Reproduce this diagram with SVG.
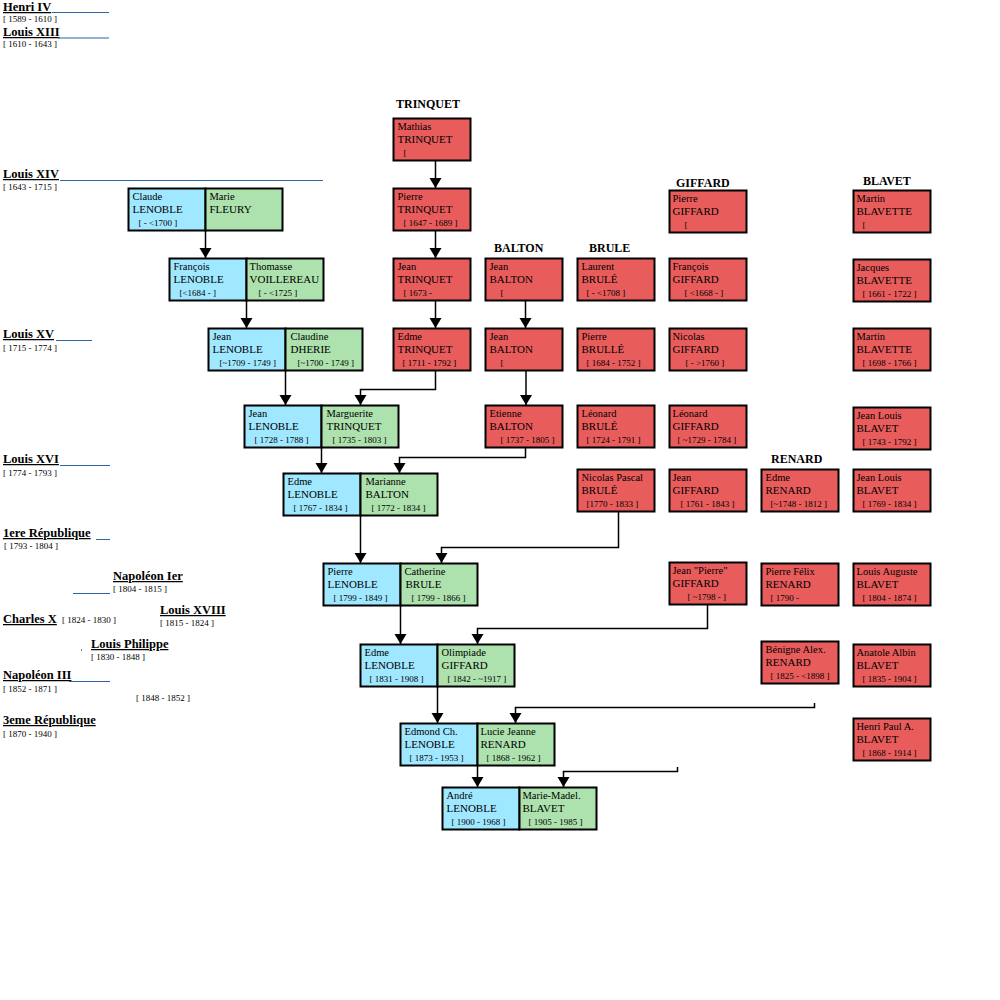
<svg xmlns="http://www.w3.org/2000/svg" width="1000" height="1000" viewBox="0 0 1000 1000">
<style>
.nb{fill:#a0e8ff;stroke:#000;stroke-width:2}
.ng{fill:#ade1ad;stroke:#000;stroke-width:2}
.nr{fill:#e85c5c;stroke:#000;stroke-width:2}
text{font-family:'Liberation Serif','Times New Roman',serif;fill:#000}
.f{font-size:10.5px}
.s{font-size:11px}
.d{font-size:9px}
.fam{font-size:12px;font-weight:bold}
.era{font-size:12.5px;font-weight:bold;text-decoration:underline}
.c{fill:none;stroke:#000;stroke-width:1.5;marker-end:url(#ah)}
.bl{stroke:#2b65a5;stroke-width:1;fill:none}
</style>
<defs>
<marker id="ah" markerUnits="userSpaceOnUse" markerWidth="13" markerHeight="13" refX="10" refY="6" orient="auto">
<path d="M0,0 L10,6 L0,12 z" fill="#000"/>
</marker>
</defs>
<rect width="1000" height="1000" fill="#fff"/>

<g id="eras">
<text class="era" x="3" y="11">Henri IV</text><line class="bl" x1="52" y1="12.5" x2="109" y2="12.5"/>
<text class="d" x="3" y="22">[ 1589 - 1610 ]</text>
<text class="era" x="3" y="36">Louis XIII</text><line class="bl" x1="58" y1="38" x2="109" y2="38"/>
<text class="d" x="3" y="47">[ 1610 - 1643 ]</text>
<text class="era" x="3" y="178">Louis XIV</text><line class="bl" x1="60" y1="180.5" x2="323" y2="180.5"/>
<text class="d" x="3" y="190">[ 1643 - 1715 ]</text>
<text class="era" x="3" y="338">Louis XV</text><line class="bl" x1="56" y1="340.5" x2="92" y2="340.5"/>
<text class="d" x="3" y="351">[ 1715 - 1774 ]</text>
<text class="era" x="3" y="463">Louis XVI</text><line class="bl" x1="60" y1="465.5" x2="110" y2="465.5"/>
<text class="d" x="3" y="476">[ 1774 - 1793 ]</text>
<text class="era" x="3" y="537">1ere République </text><line class="bl" x1="96" y1="539.5" x2="110" y2="539.5"/>
<text class="d" x="4" y="549">[ 1793 - 1804 ]</text>
<text class="era" x="113" y="580">Napoléon Ier</text><line class="bl" x1="73" y1="593.5" x2="110" y2="593.5"/>
<text class="d" x="113" y="592">[ 1804 - 1815 ]</text>
<text class="era" x="3" y="623">Charles X</text>
<text class="d" x="62" y="623">[ 1824 - 1830 ]</text>
<text class="era" x="160" y="614">Louis XVIII</text>
<text class="d" x="160" y="626">[ 1815 - 1824 ]</text>
<rect x="81" y="649.5" width="1" height="1" fill="#000"/>
<text class="era" x="91" y="648">Louis Philippe</text>
<text class="d" x="91" y="660">[ 1830 - 1848 ]</text>
<text class="era" x="3" y="679">Napoléon III</text><line class="bl" x1="69" y1="681.5" x2="110" y2="681.5"/>
<text class="d" x="3" y="692">[ 1852 - 1871 ]</text>
<text class="d" x="136" y="701">[ 1848 - 1852 ]</text>
<text class="era" x="3" y="724">3eme République</text>
<text class="d" x="3" y="737">[ 1870 - 1940 ]</text>
</g>

<g id="families">
<text class="fam" x="396" y="108">TRINQUET</text>
<text class="fam" x="494" y="251.5">BALTON</text>
<text class="fam" x="589" y="251.5">BRULE</text>
<text class="fam" x="676" y="187">GIFFARD</text>
<text class="fam" x="863" y="185">BLAVET</text>
<text class="fam" x="771" y="462.5">RENARD</text>
</g>

<g id="connectors">
<path class="c" d="M205.5,230 V258"/>
<path class="c" d="M246.5,300 V328"/>
<path class="c" d="M285.5,370 V405"/>
<path class="c" d="M435.5,370 V389.5 H360.5 V405"/>
<path class="c" d="M321.5,447 V473"/>
<path class="c" d="M525.5,447 V457.5 H399.5 V473"/>
<path class="c" d="M360.5,515 V563"/>
<path class="c" d="M618.5,511 V547.5 H441.5 V563"/>
<path class="c" d="M400.5,605 V644"/>
<path class="c" d="M707.5,604 V628.5 H477.5 V644"/>
<path class="c" d="M437.5,686 V723"/>
<path class="c" d="M814.5,703 V707.5 H515.5 V723"/>
<path class="c" d="M477.5,765 V787"/>
<path class="c" d="M677.5,767 V771.5 H563.5 V787"/>
<path class="c" d="M435.5,160 V188"/>
<path class="c" d="M435.5,230 V258"/>
<path class="c" d="M435.5,300 V328"/>
<path class="c" d="M525.5,300 V328"/>
<path class="c" d="M526,370 V405"/>
</g>

<g id="n-claude-lenoble" transform="translate(128.5,188.5)"><rect class="nb" width="77" height="42"/><text class="f" x="4" y="11">Claude</text><text class="s" x="4" y="24">LENOBLE</text><text class="d" x="10" y="37">[ - &lt;1700 ]</text></g>
<g id="n-marie-fleury" transform="translate(205.5,188.5)"><rect class="ng" width="77" height="42"/><text class="f" x="4" y="11">Marie</text><text class="s" x="4" y="24">FLEURY</text></g>
<g id="n-francois-lenoble" transform="translate(169.5,258.5)"><rect class="nb" width="77" height="42"/><text class="f" x="4" y="11">François</text><text class="s" x="4" y="24">LENOBLE</text><text class="d" x="10" y="37">[&lt;1684 - ]</text></g>
<g id="n-thomasse-voillereau" transform="translate(246.5,258.5)"><rect class="ng" width="77" height="42"/><text class="f" x="3" y="11">Thomasse</text><text class="s" x="3" y="24">VOILLEREAU</text><text class="d" x="12" y="37">[ - &lt;1725 ]</text></g>
<g id="n-jean-lenoble-1709" transform="translate(208.5,328.5)"><rect class="nb" width="77" height="42"/><text class="f" x="4" y="11">Jean</text><text class="s" x="4" y="24">LENOBLE</text><text class="d" x="11" y="37">[~1709 - 1749 ]</text></g>
<g id="n-claudine-dherie" transform="translate(285.5,328.5)"><rect class="ng" width="77" height="42"/><text class="f" x="5" y="11">Claudine</text><text class="s" x="5" y="24">DHERIE</text><text class="d" x="12" y="37">[~1700 - 1749 ]</text></g>
<g id="n-jean-lenoble-1728" transform="translate(244.5,405.5)"><rect class="nb" width="77" height="42"/><text class="f" x="4" y="11">Jean</text><text class="s" x="4" y="24">LENOBLE</text><text class="d" x="10" y="37">[ 1728 - 1788 ]</text></g>
<g id="n-marguerite-trinquet" transform="translate(321.5,405.5)"><rect class="ng" width="77" height="42"/><text class="f" x="5" y="11">Marguerite</text><text class="s" x="5" y="24">TRINQUET</text><text class="d" x="11" y="37">[ 1735 - 1803 ]</text></g>
<g id="n-edme-lenoble-1767" transform="translate(283.5,473.5)"><rect class="nb" width="77" height="42"/><text class="f" x="4" y="11">Edme</text><text class="s" x="4" y="24">LENOBLE</text><text class="d" x="10" y="37">[ 1767 - 1834 ]</text></g>
<g id="n-marianne-balton" transform="translate(360.5,473.5)"><rect class="ng" width="77" height="42"/><text class="f" x="5" y="11">Marianne</text><text class="s" x="5" y="24">BALTON</text><text class="d" x="11" y="37">[ 1772 - 1834 ]</text></g>
<g id="n-pierre-lenoble" transform="translate(323.5,563.5)"><rect class="nb" width="77" height="42"/><text class="f" x="4" y="11">Pierre</text><text class="s" x="4" y="24">LENOBLE</text><text class="d" x="10" y="37">[ 1799 - 1849 ]</text></g>
<g id="n-catherine-brule" transform="translate(400.5,563.5)"><rect class="ng" width="77" height="42"/><text class="f" x="4" y="11">Catherine</text><text class="s" x="5" y="24">BRULE</text><text class="d" x="11" y="37">[ 1799 - 1866 ]</text></g>
<g id="n-edme-lenoble-1831" transform="translate(360.5,644.5)"><rect class="nb" width="77" height="42"/><text class="f" x="4" y="11">Edme</text><text class="s" x="4" y="24">LENOBLE</text><text class="d" x="9" y="37">[ 1831 - 1908 ]</text></g>
<g id="n-olimpiade-giffard" transform="translate(437.5,644.5)"><rect class="ng" width="77" height="42"/><text class="f" x="4" y="11">Olimpiade</text><text class="s" x="4" y="24">GIFFARD</text><text class="d" x="10" y="37">[ 1842 - ~1917 ]</text></g>
<g id="n-edmond-lenoble" transform="translate(400.5,723.5)"><rect class="nb" width="77" height="42"/><text class="f" x="4" y="11">Edmond Ch.</text><text class="s" x="4" y="24">LENOBLE</text><text class="d" x="9" y="37">[ 1873 - 1953 ]</text></g>
<g id="n-lucie-renard" transform="translate(477.5,723.5)"><rect class="ng" width="77" height="42"/><text class="f" x="3" y="11">Lucie Jeanne</text><text class="s" x="3" y="24">RENARD</text><text class="d" x="9" y="37">[ 1868 - 1962 ]</text></g>
<g id="n-andre-lenoble" transform="translate(442.5,787.5)"><rect class="nb" width="77" height="42"/><text class="f" x="4" y="11">André</text><text class="s" x="4" y="24">LENOBLE</text><text class="d" x="9" y="37">[ 1900 - 1968 ]</text></g>
<g id="n-marie-madel-blavet" transform="translate(519.5,787.5)"><rect class="ng" width="77" height="42"/><text class="f" x="3" y="11">Marie-Madel.</text><text class="s" x="3" y="24">BLAVET</text><text class="d" x="9" y="37">[ 1905 - 1985 ]</text></g>

<g id="n-mathias-trinquet" transform="translate(393.5,118.5)"><rect class="nr" width="77" height="42"/><text class="f" x="4" y="11">Mathias</text><text class="s" x="4" y="24">TRINQUET</text><text class="d" x="10" y="37">[</text></g>
<g id="n-pierre-trinquet" transform="translate(393.5,188.5)"><rect class="nr" width="77" height="42"/><text class="f" x="4" y="11">Pierre</text><text class="s" x="4" y="24">TRINQUET</text><text class="d" x="10" y="37">[ 1647 - 1689 ]</text></g>
<g id="n-jean-trinquet" transform="translate(393.5,258.5)"><rect class="nr" width="77" height="42"/><text class="f" x="4" y="11">Jean</text><text class="s" x="4" y="24">TRINQUET</text><text class="d" x="10" y="37">[ 1673 -</text></g>
<g id="n-edme-trinquet" transform="translate(393.5,328.5)"><rect class="nr" width="77" height="42"/><text class="f" x="4" y="11">Edme</text><text class="s" x="4" y="24">TRINQUET</text><text class="d" x="9" y="37">[ 1711 - 1792 ]</text></g>

<g id="n-jean-balton-1" transform="translate(485.5,258.5)"><rect class="nr" width="77" height="42"/><text class="f" x="4" y="11">Jean</text><text class="s" x="4" y="24">BALTON</text><text class="d" x="15" y="37">[</text></g>
<g id="n-jean-balton-2" transform="translate(485.5,328.5)"><rect class="nr" width="77" height="42"/><text class="f" x="4" y="11">Jean</text><text class="s" x="4" y="24">BALTON</text><text class="d" x="15" y="37">[</text></g>
<g id="n-etienne-balton" transform="translate(485.5,405.5)"><rect class="nr" width="77" height="42"/><text class="f" x="4" y="11">Etienne</text><text class="s" x="4" y="24">BALTON</text><text class="d" x="15" y="37">[ 1737 - 1805 ]</text></g>

<g id="n-laurent-brule" transform="translate(577.5,258.5)"><rect class="nr" width="77" height="42"/><text class="f" x="4" y="11">Laurent</text><text class="s" x="4" y="24">BRULÉ</text><text class="d" x="9" y="37">[ - &lt;1708 ]</text></g>
<g id="n-pierre-brulle" transform="translate(577.5,328.5)"><rect class="nr" width="77" height="42"/><text class="f" x="4" y="11">Pierre</text><text class="s" x="4" y="24">BRULLÉ</text><text class="d" x="9" y="37">[ 1684 - 1752 ]</text></g>
<g id="n-leonard-brule" transform="translate(577.5,405.5)"><rect class="nr" width="77" height="42"/><text class="f" x="4" y="11">Léonard</text><text class="s" x="4" y="24">BRULÉ</text><text class="d" x="9" y="37">[ 1724 - 1791 ]</text></g>
<g id="n-nicolas-pascal-brule" transform="translate(577.5,469.5)"><rect class="nr" width="77" height="42"/><text class="f" x="4" y="11">Nicolas Pascal</text><text class="s" x="4" y="24">BRULÉ</text><text class="d" x="9" y="37">[1770 - 1833 ]</text></g>

<g id="n-pierre-giffard" transform="translate(669.5,190.5)"><rect class="nr" width="77" height="42"/><text class="f" x="3" y="11">Pierre</text><text class="s" x="3" y="24">GIFFARD</text><text class="d" x="15" y="37">[</text></g>
<g id="n-francois-giffard" transform="translate(669.5,258.5)"><rect class="nr" width="77" height="42"/><text class="f" x="3" y="11">François</text><text class="s" x="3" y="24">GIFFARD</text><text class="d" x="15" y="37">[ &lt;1668 - ]</text></g>
<g id="n-nicolas-giffard" transform="translate(669.5,328.5)"><rect class="nr" width="77" height="42"/><text class="f" x="3" y="11">Nicolas</text><text class="s" x="3" y="24">GIFFARD</text><text class="d" x="16" y="37">[ - &gt;1760 ]</text></g>
<g id="n-leonard-giffard" transform="translate(669.5,405.5)"><rect class="nr" width="77" height="42"/><text class="f" x="3" y="11">Léonard</text><text class="s" x="3" y="24">GIFFARD</text><text class="d" x="8" y="37">[ ~1729 - 1784 ]</text></g>
<g id="n-jean-giffard" transform="translate(669.5,469.5)"><rect class="nr" width="77" height="42"/><text class="f" x="3" y="11">Jean</text><text class="s" x="3" y="24">GIFFARD</text><text class="d" x="11" y="37">[ 1761 - 1843 ]</text></g>
<g id="n-jean-pierre-giffard" transform="translate(669.5,562.5)"><rect class="nr" width="77" height="42"/><text class="f" x="3" y="11">Jean "Pierre"</text><text class="s" x="3" y="24">GIFFARD</text><text class="d" x="18" y="37">[ ~1798 - ]</text></g>

<g id="n-edme-renard" transform="translate(761.5,469.5)"><rect class="nr" width="77" height="42"/><text class="f" x="4" y="11">Edme</text><text class="s" x="4" y="24">RENARD</text><text class="d" x="9" y="37">[~1748 - 1812 ]</text></g>
<g id="n-pierre-felix-renard" transform="translate(761.5,563.5)"><rect class="nr" width="77" height="42"/><text class="f" x="4" y="11">Pierre Félix</text><text class="s" x="4" y="24">RENARD</text><text class="d" x="9" y="37">[ 1790 -</text></g>
<g id="n-benigne-renard" transform="translate(761.5,641.5)"><rect class="nr" width="77" height="42"/><text class="f" x="4" y="11">Bénigne Alex.</text><text class="s" x="4" y="24">RENARD</text><text class="d" x="9" y="37">[ 1825 - &lt;1898 ]</text></g>

<g id="n-martin-blavette-1" transform="translate(853.5,190.5)"><rect class="nr" width="77" height="42"/><text class="f" x="3" y="11">Martin</text><text class="s" x="3" y="24">BLAVETTE</text><text class="d" x="9" y="37">[</text></g>
<g id="n-jacques-blavette" transform="translate(853.5,259.5)"><rect class="nr" width="77" height="42"/><text class="f" x="3" y="11">Jacques</text><text class="s" x="3" y="24">BLAVETTE</text><text class="d" x="9" y="37">[ 1661 - 1722 ]</text></g>
<g id="n-martin-blavette-2" transform="translate(853.5,328.5)"><rect class="nr" width="77" height="42"/><text class="f" x="3" y="11">Martin</text><text class="s" x="3" y="24">BLAVETTE</text><text class="d" x="9" y="37">[ 1698 - 1766 ]</text></g>
<g id="n-jean-louis-blavet-1743" transform="translate(853.5,407.5)"><rect class="nr" width="77" height="42"/><text class="f" x="3" y="11">Jean Louis</text><text class="s" x="3" y="24">BLAVET</text><text class="d" x="9" y="37">[ 1743 - 1792 ]</text></g>
<g id="n-jean-louis-blavet-1769" transform="translate(853.5,469.5)"><rect class="nr" width="77" height="42"/><text class="f" x="3" y="11">Jean Louis</text><text class="s" x="3" y="24">BLAVET</text><text class="d" x="9" y="37">[ 1769 - 1834 ]</text></g>
<g id="n-louis-auguste-blavet" transform="translate(853.5,563.5)"><rect class="nr" width="77" height="42"/><text class="f" x="3" y="11">Louis Auguste</text><text class="s" x="3" y="24">BLAVET</text><text class="d" x="9" y="37">[ 1804 - 1874 ]</text></g>
<g id="n-anatole-albin-blavet" transform="translate(853.5,644.5)"><rect class="nr" width="77" height="42"/><text class="f" x="3" y="11">Anatole Albin</text><text class="s" x="3" y="24">BLAVET</text><text class="d" x="9" y="37">[ 1835 - 1904 ]</text></g>
<g id="n-henri-paul-blavet" transform="translate(853.5,718.5)"><rect class="nr" width="77" height="42"/><text class="f" x="3" y="11">Henri Paul A.</text><text class="s" x="3" y="24">BLAVET</text><text class="d" x="9" y="37">[ 1868 - 1914 ]</text></g>
</svg>
